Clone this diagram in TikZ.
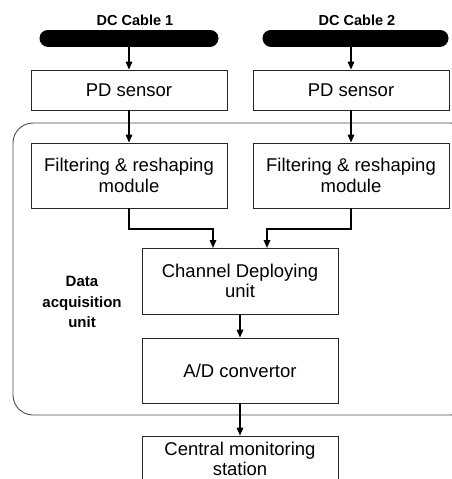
\documentclass[tikz,border=0pt]{standalone}
\usepackage{fontspec}
\setmainfont{Liberation Sans}
\usetikzlibrary{arrows.meta}
\begin{document}
\begin{tikzpicture}[x=1pt,y=-1pt,
  box/.style={draw=black!85,line width=0.8pt,fill=white,align=center,inner sep=0pt,
    font=\fontsize{18.5}{20.5}\selectfont},
  cable/.style={line width=17pt,line cap=round,draw=black},
  lbl/.style={font=\fontsize{14.5}{20}\selectfont\bfseries,align=center,inner sep=0pt},
  arr/.style={line width=1.6pt,-{Triangle[length=8pt,width=6.5pt]}},
  wire/.style={line width=1.6pt}]
\useasboundingbox (0,0) rectangle (452,479);
\clip (0,0) rectangle (452,479);
% region
\draw[draw=black!70,line width=0.9pt,rounded corners=20pt] (13,123) rectangle (470,415);
% cables
\coordinate (c1a) at (48,38); \coordinate (c1b) at (210,38);
\coordinate (c2a) at (271,38); \coordinate (c2b) at (440,38);
\draw[cable] (c1a) -- (c1b);
\draw[cable] (c2a) -- (c2b);
\node[lbl] (l1) at (135,20) {DC Cable 1};
\node[lbl] (l2) at (357,20) {DC Cable 2};
% boxes
\node[box,minimum width=196pt,minimum height=40pt] (pd1) at (129,90) {PD sensor};
\node[box,minimum width=196pt,minimum height=40pt] (pd2) at (351,90) {PD sensor};
\node[box,minimum width=196pt,minimum height=65pt] (f1) at (129,175.5) {Filtering \& reshaping\\module};
\node[box,minimum width=196pt,minimum height=65pt] (f2) at (351,175.5) {Filtering \& reshaping\\module};
\node[box,minimum width=196pt,minimum height=66pt] (ch) at (240,281) {Channel Deploying\\unit};
\node[box,minimum width=196pt,minimum height=65pt] (ad) at (240,370.5) {A/D convertor};
\node[box,minimum width=196pt,minimum height=60pt] (cm) at (240,466) {};
\node[align=center,inner sep=0pt,font=\fontsize{18.5}{20}\selectfont] (cmt) at (240,458.5) {Central monitoring\\station};
\node[lbl,font=\fontsize{15}{20.5}\selectfont\bfseries] (dl) at (82,302) {Data\\acquisition\\unit};
% connectors
\coordinate (s1) at (129,47); \coordinate (s2) at (351,47);
\draw[arr] (s1) -- (pd1.north);
\draw[arr] (s2) -- (pd2.north);
\draw[arr] (pd1.south) -- (f1.north);
\draw[arr] (pd2.south) -- (f2.north);
\draw[arr] (f1.south) -- (129,229) -- (213,229) -- (213,248);
\draw[arr] (f2.south) -- (351,229) -- (267,229) -- (267,248);
\draw[arr] (ch.south) -- (ad.north);
\draw[arr] (ad.south) -- (cm.north);
\end{tikzpicture}
\end{document}
